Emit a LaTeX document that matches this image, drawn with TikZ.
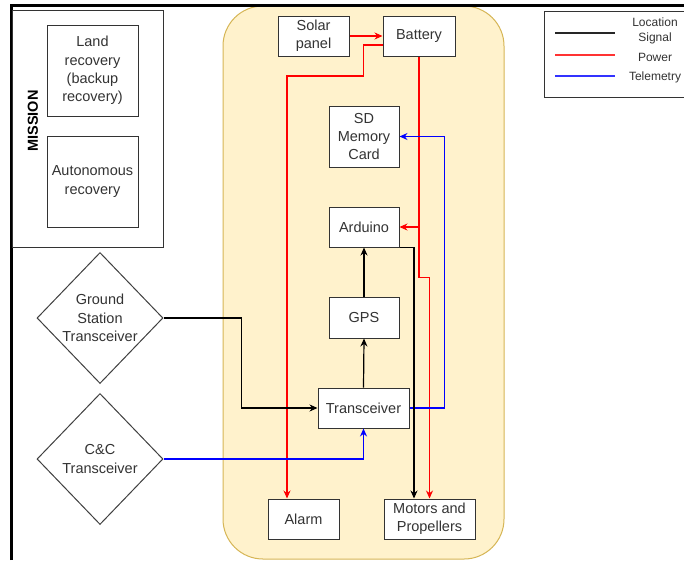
\documentclass[tikz,border=0pt]{standalone}
\usepackage{fontspec}
\setmainfont{Liberation Sans}
\usetikzlibrary{shapes.geometric,arrows.meta,calc}
\definecolor{txt}{HTML}{333333}
\definecolor{orfill}{HTML}{FFF2CC}
\definecolor{ordraw}{HTML}{D6B656}
\definecolor{pwr}{HTML}{FF0000}
\definecolor{tlm}{HTML}{0000FF}
\tikzset{
  box/.style={draw=black!80, line width=1pt, fill=white, text=txt, align=center, inner sep=0pt,
    font=\fontsize{14.5}{18.3}\selectfont},
  dia/.style={draw=black!75, line width=1pt, fill=white, diamond, inner sep=0pt},
  diatext/.style={text=txt, align=center, font=\fontsize{14.5}{18.3}\selectfont},
  tip/.style={-{Stealth[length=8pt,width=7pt]}},
  sig/.style={color=black, line width=1.2pt},
  pw/.style={color=pwr, line width=1.2pt},
  tm/.style={color=tlm, line width=1.2pt},
  legtext/.style={text=txt, align=center, font=\fontsize{12}{15}\selectfont},
}
\begin{document}
\begin{tikzpicture}[x=1pt, y=-1pt]
\useasboundingbox (0,0) rectangle (684,560);
\fill[white] (0,0) rectangle (684,560);
% container
\draw[fill=orfill, draw=ordraw, line width=1pt, rounded corners=40pt] (223,6) rectangle (504,559);
% outer frame
\draw[black, line width=3pt] (11,560) -- (11,5) -- (690,5);
% mission
\node[draw=black!80, line width=1pt, minimum width=151pt, minimum height=237pt, inner sep=0pt] (mission) at (87.5,128.5) {};
\node[rotate=90, font=\bfseries\fontsize{14.5}{18}\selectfont, text=black] (mlabel) at (33,121) {MISSION};
\node[box, minimum width=91pt, minimum height=91pt] (land) at (92.5,70.5) {Land\\recovery\\(backup\\recovery)};
\node[box, minimum width=91pt, minimum height=91pt] (auto) at (92.5,181.5) {Autonomous\\recovery};
% legend
\draw[black!80, line width=1pt] (544,11) rectangle (700,97);
\coordinate (l1a) at (555,33); \coordinate (l1b) at (615,33);
\coordinate (l2a) at (555,55); \coordinate (l2b) at (615,55);
\coordinate (l3a) at (555,76); \coordinate (l3b) at (615,76);
\draw[black!85, line width=2.2pt] (l1a) -- (l1b);
\draw[pwr!80!white, line width=2.2pt] (l2a) -- (l2b);
\draw[tlm!80!white, line width=2.2pt] (l3a) -- (l3b);
\node[legtext] (lg1) at (655,30.5) {Location\\Signal};
\node[legtext] (lg2) at (655,57) {Power};
\node[legtext] (lg3) at (655,77) {Telemetry};
% nodes
\node[box, minimum width=71pt, minimum height=40pt] (solar) at (313.5,36) {Solar\\panel};
\node[box, minimum width=72pt, minimum height=40pt] (battery) at (419,36) {Battery};
\node[box, minimum width=70pt, minimum height=61pt] (sd) at (364,136.5) {SD\\Memory\\Card};
\node[box, minimum width=70pt, minimum height=40pt] (arduino) at (364,227) {Arduino};
\node[box, minimum width=70pt, minimum height=41pt] (gps) at (364,317.5) {GPS};
\node[box, minimum width=91pt, minimum height=40pt] (trans) at (363.5,408) {Transceiver};
\node[box, minimum width=71pt, minimum height=40pt] (alarm) at (303.5,519) {Alarm};
\node[box, minimum width=91pt, minimum height=40pt] (motors) at (429.5,519) {Motors and\\Propellers};
\node[dia, minimum width=126pt, minimum height=131pt] (ground) at (100,318) {};
\node[diatext] (groundt) at (100,318) {Ground\\Station\\Transceiver};
\node[dia, minimum width=126pt, minimum height=131pt] (cc) at (100,459) {};
\node[diatext] (cct) at (100,459) {C\&C\\Transceiver};
% power
\draw[pw, tip] (solar.east) -- (battery.west);
\draw[pw, tip] ($(battery.west)+(0,9)$) -- ++(-19,0) -- ++(0,31) -| ($(alarm.north)+(-16.5,0)$);
\draw[pw, tip] (battery.south) -- ++(0,221) -| (motors.north);
\draw[pw, tip] (battery.south |- arduino.east) -- (arduino.east);
% telemetry
\draw[tm, tip] (trans.east) -- ++(35,0) |- (sd.east);
\draw[tm, tip] (cc.east) -| (trans.south);
% signal
\draw[sig, tip] (trans.north) -- (gps.south);
\draw[sig, tip] (gps.north) -- (arduino.south);
\draw[sig, tip] (arduino.south east) -| ($(motors.north)+(-15.5,0)$);
\draw[sig, tip] (ground.east) -- ++(78,0) |- (trans.west);
\end{tikzpicture}
\end{document}
